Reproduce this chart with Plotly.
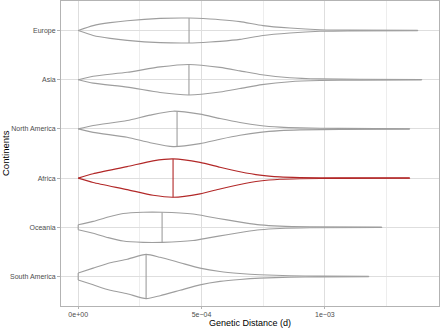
import numpy as np
import plotly.graph_objects as go

# Continents from bottom (1) to top (6)
continents = ["South America", "Oceania", "Africa", "North America", "Asia", "Europe"]

# Density profiles: distance grid (units of 1e-4) and relative density
eu_x = [0, 0.607, 1.296, 1.984, 3.320, 4.494, 5.344, 5.749, 6.559, 7.490, 8.583, 9.798, 11.012, 13.765]
eu_d = [0, 5, 8, 10, 12.3, 12.7, 11.7, 11, 9, 5, 2.5, 0.8, 0.4, 0.2]
as_x = [0, 0.607, 1.984, 3.320, 4.49, 5.749, 6.559, 7.449, 8.583, 9.798, 11.417, 13.927]
as_d = [0, 3.5, 7.5, 13, 15.5, 12.5, 9, 5, 2, 0.8, 0.4, 0.2]
na_x = [0, 0.607, 1.984, 2.915, 3.846, 4.939, 5.749, 6.559, 7.368, 8.178, 8.988, 10.607, 13.441]
na_d = [0, 3.5, 8.5, 14, 18, 15, 10.5, 6.5, 3.5, 1.8, 1, 0.5, 0.2]
af_x = [0, 0.607, 1.984, 3.036, 3.846, 4.939, 5.749, 6.559, 7.368, 8.178, 8.988, 10.607, 13.441]
af_d = [0, 4.5, 11.7, 17.5, 19.5, 16, 11, 6.5, 3, 1.2, 0.6, 0.3, 0.2]
oc_x = [0, 0.607, 1.215, 1.822, 2.632, 3.401, 4.656, 5.344, 6.032, 6.761, 7.368, 8.178, 9.393, 12.308]
oc_d = [2.5, 6, 10.5, 14, 15.3, 15.3, 13.5, 10.5, 7.5, 4.5, 2.5, 1.2, 0.5, 0.2]
sa_x = [0, 0.607, 1.296, 1.984, 2.753, 3.320, 4.130, 4.939, 5.749, 6.559, 7.368, 8.583, 9.798, 11.781]
sa_d = [3.5, 8.5, 14, 17.5, 22.5, 19.5, 14, 8.5, 5, 3, 1.7, 0.8, 0.4, 0.2]

# Medians (units of 1e-4)
medians = [2.753, 3.401, 3.846, 4.008, 4.49, 4.494]

profiles = [(sa_x, sa_d), (oc_x, oc_d), (af_x, af_d), (na_x, na_d), (as_x, as_d), (eu_x, eu_d)]
highlight = "Africa"

x_ticks = [0, 5e-4, 1e-3]
x_tick_labels = ["0e+00", "5e\u221204", "1e\u221203"]

GREY = "rgb(158,158,158)"
RED = "rgb(178,40,40)"
LW = 1.1

max_d = max(max(d) for _, d in profiles)
half = 0.45

fig = go.Figure()
for i, (name, (xs, ds), med) in enumerate(zip(continents, profiles, medians)):
    c = i + 1
    xs = np.array(xs) * 1e-4
    hw = np.array(ds) / max_d * half
    col = RED if name == highlight else GREY
    for sgn in (1, -1):
        fig.add_trace(go.Scatter(x=xs, y=c + sgn * hw, mode="lines",
                                 line=dict(color=col, width=LW, shape="spline", smoothing=0.6),
                                 hoverinfo="skip", showlegend=False))
    for k in (0, -1):
        if hw[k] > 0:
            fig.add_trace(go.Scatter(x=[xs[k], xs[k]], y=[c - hw[k], c + hw[k]], mode="lines",
                                     line=dict(color=col, width=LW),
                                     hoverinfo="skip", showlegend=False))
    mx = med * 1e-4
    mw = np.interp(mx, xs, hw)
    fig.add_trace(go.Scatter(x=[mx, mx], y=[c - mw, c + mw], mode="lines",
                             line=dict(color=col, width=LW),
                             hoverinfo="skip", showlegend=False))

fig.update_layout(
    width=440, height=328,
    margin=dict(l=61, r=1, t=1, b=22),
    paper_bgcolor="white", plot_bgcolor="white",
    font=dict(family="Liberation Sans, Arial, sans-serif", size=7, color="rgb(77,77,77)"),
    showlegend=False,
    hovermode=False,
    annotations=[
        dict(text="Genetic Distance (d)", x=0.5, xref="paper", y=0, yref="paper",
             yshift=-10, yanchor="top", xanchor="center", showarrow=False,
             font=dict(size=9, color="black")),
        dict(text="Continents", x=0, xref="paper", xshift=-48, xanchor="right",
             y=0.5, yref="paper", yanchor="middle", textangle=-90, showarrow=False,
             font=dict(size=9.5, color="black")),
    ],
)
fig.update_xaxes(
    range=[-0.0000697, 0.0014627], automargin=False,
    tickvals=x_ticks, ticktext=x_tick_labels,
    ticks="outside", ticklen=2, tickcolor="rgb(179,179,179)", tickwidth=0.8,
    showgrid=True, gridcolor="rgb(222,222,222)", gridwidth=0.7,
    minor=dict(tickvals=[2.5e-4, 7.5e-4, 1.25e-3], showgrid=True,
               gridcolor="rgb(237,237,237)", gridwidth=0.5, ticks=""),
    showline=True, mirror=True, linecolor="rgb(179,179,179)", linewidth=1,
    zeroline=False,
)
fig.update_yaxes(
    range=[0.4, 6.6], automargin=False,
    tickvals=list(range(1, 7)), ticktext=continents,
    ticks="outside", ticklen=3, tickcolor="rgb(179,179,179)", tickwidth=0.8,
    showgrid=True, gridcolor="rgb(222,222,222)", gridwidth=0.7,
    showline=True, mirror=True, linecolor="rgb(179,179,179)", linewidth=1,
    zeroline=False,
)

fig.write_html("out.html", config={"displayModeBar": False},
               post_script="document.body.style.margin='0';")
